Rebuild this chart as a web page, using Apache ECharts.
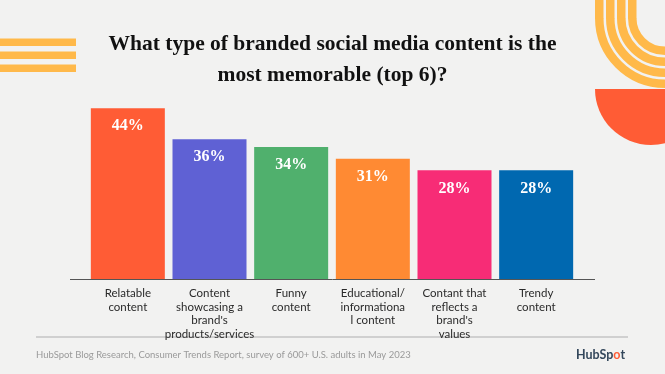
<!DOCTYPE html>
<html><head><meta charset="utf-8">
<script src="https://cdn.jsdelivr.net/npm/echarts@6/dist/echarts.min.js"></script>
<style>html,body{margin:0;padding:0;background:#f2f2f1;} #c{width:665px;height:374px;}</style>
</head><body><div id="c"></div>
<script>
const categories = ["Relatable\ncontent", "Content\nshowcasing a\nbrand's\nproducts/services", "Funny\ncontent", "Educational/\ninformationa\nl content", "Contant that\nreflects a\nbrand's\nvalues", "Trendy\ncontent"];
const values = [44, 36, 34, 31, 28, 28];
const barColors = ["#FF5C35", "#5F61D4", "#50B06D", "#FF8A33", "#F72C76", "#0068B0"];
const titleLines = ["What type of branded social media content is the", "most memorable (top 6)?"];
const sourceText = "HubSpot Blog Research, Consumer Trends Report, survey of 600+ U.S. adults in May 2023";

const chart = echarts.init(document.getElementById('c'), null, {renderer: 'canvas'});
const Y = '#FFB94A';
const ucx = 665, ucy = 18, uw = 8.5;
const uRadii = [65.75, 54.75, 43.75, 32.75];
const graphics = [];
// left stripes
[38.5, 51.5, 64.5].forEach(y => graphics.push({type: 'rect', shape: {x: 0, y: y, width: 76, height: 7.5}, style: {fill: Y}}));
// U arcs
uRadii.forEach(r => {
  graphics.push({type: 'arc', shape: {cx: ucx, cy: ucy, r: r, startAngle: 0, endAngle: Math.PI, clockwise: true}, style: {stroke: Y, lineWidth: uw, fill: null}});
  graphics.push({type: 'line', shape: {x1: ucx - r, y1: ucy + 0.5, x2: ucx - r, y2: -5}, style: {stroke: Y, lineWidth: uw}});
});
// orange half disk
graphics.push({type: 'sector', shape: {cx: 651, cy: 89, r: 56, r0: 0, startAngle: 0, endAngle: Math.PI, clockwise: true}, style: {fill: '#FF5C35'}});
// axis baseline
graphics.push({type: 'line', shape: {x1: 70, y1: 279.5, x2: 595, y2: 279.5}, style: {stroke: '#555', lineWidth: 1}});
// bottom separator
graphics.push({type: 'line', shape: {x1: 36, y1: 337, x2: 628, y2: 337}, style: {stroke: '#c4c4c4', lineWidth: 1.5}});
// source
graphics.push({type: 'text', x: 36, y: 355, style: {text: sourceText, fill: '#9a9a9a', fontSize: 9.5, fontFamily: 'Lato', verticalAlign: 'middle', align: 'left'}});
// logo
graphics.push({type: 'text', x: 576, y: 355, style: {
  text: '{a|HubSp}{b|o}{a|t}', verticalAlign: 'middle', align: 'left',
  rich: {a: {fill: '#33475B', fontSize: 12.5, fontWeight: 'bold', fontFamily: 'Lato'}, b: {fill: '#FF5C35', fontSize: 12.5, fontWeight: 'bold', fontFamily: 'Lato'}}
}});

chart.setOption({
  backgroundColor: '#f2f2f1',
  animation: false,
  title: {
    text: titleLines.join('\n'), left: 'center', top: 24,
    textStyle: {fontFamily: 'Liberation Serif', fontWeight: 'bold', fontSize: 21.5, lineHeight: 31, color: '#111'}
  },
  grid: {left: 87, right: 88, top: 85, bottom: 95},
  xAxis: {
    type: 'category', data: categories,
    axisLine: {show: false}, axisTick: {show: false},
    axisLabel: {interval: 0, margin: 8, color: '#2a2a2a', fontFamily: 'Lato', fontSize: 11.5, lineHeight: 13.5, align: 'center'}
  },
  yAxis: {type: 'value', min: 0, max: 50, show: false, splitLine: {show: false}},
  series: [{
    type: 'bar', barWidth: 74,
    data: values.map((v, i) => ({value: v, itemStyle: {color: barColors[i]}})),
    label: {show: true, position: 'insideTop', distance: 10, formatter: '{c}%', color: '#fff',
      fontFamily: 'Liberation Serif', fontWeight: 'bold', fontSize: 16}
  }],
  graphic: graphics
});
</script></body></html>
